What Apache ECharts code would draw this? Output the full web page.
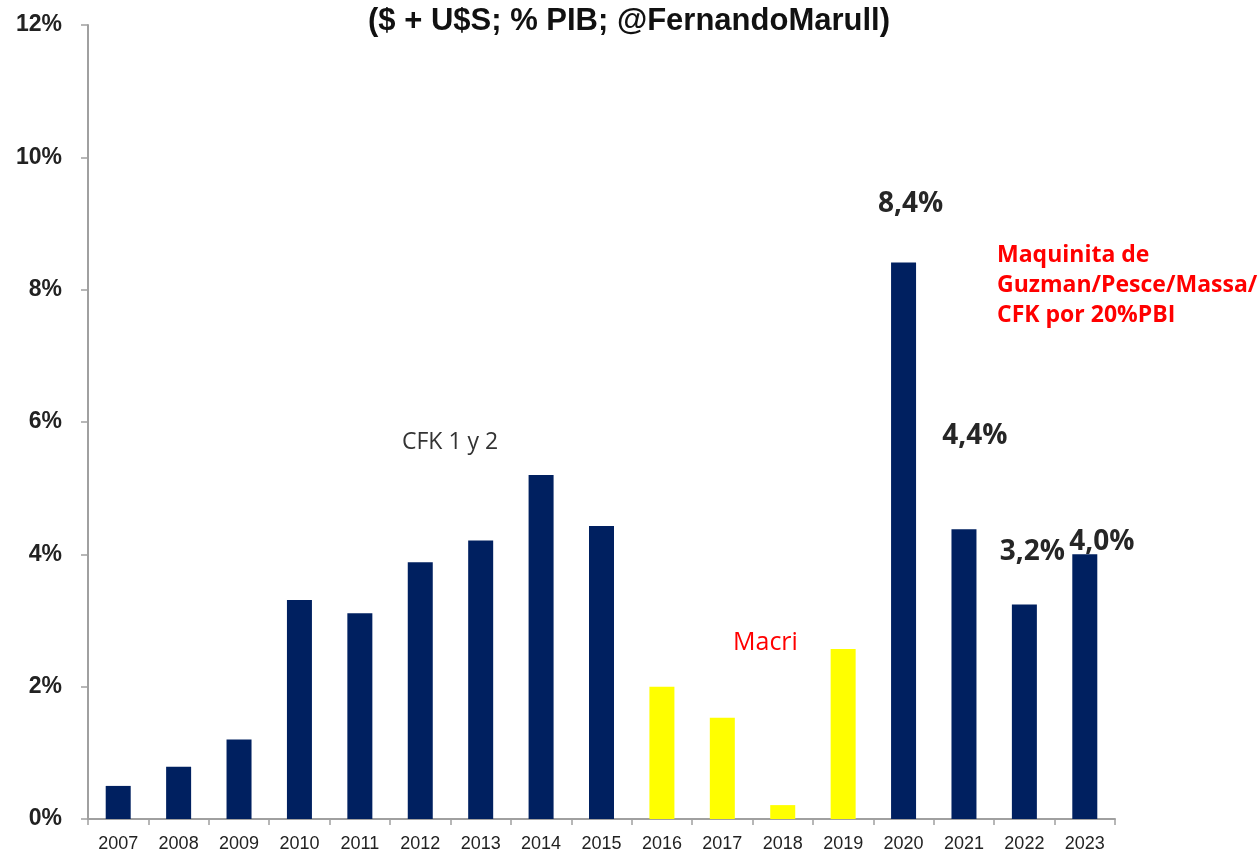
<!DOCTYPE html>
<html>
<head>
<meta charset="utf-8">
<script src="https://cdn.jsdelivr.net/npm/echarts@6/dist/echarts.min.js"></script>
<style>html,body{margin:0;padding:0;background:#fff}#c{width:1260px;height:855px}</style>
</head>
<body>
<div id="c"></div>
<script>
var years = ['2007','2008','2009','2010','2011','2012','2013','2014','2015','2016','2017','2018','2019','2020','2021','2022','2023'];
var values = [0.5, 0.79, 1.2, 3.31, 3.11, 3.88, 4.21, 5.2, 4.43, 2.0, 1.53, 0.21, 2.57, 8.41, 4.38, 3.24, 4.0];
var govs = ['CFK','CFK','CFK','CFK','CFK','CFK','CFK','CFK','CFK','Macri','Macri','Macri','Macri','AF','AF','AF','AF'];
var yTicks = [0, 2, 4, 6, 8, 10, 12];
var labelled = {'2020': [7, -40], '2021': [11, -74], '2022': [8, -34], '2023': [17, 7]};
var titleText = '($ + U$S; % PIB; @FernandoMarull)';

var NAVY = '#002060', YELLOW = '#FFFF00', RED = '#FF0000';
function fmt(v){ return v.toFixed(1).replace('.', ',') + '%'; }

var data = values.map(function(v, i){
  var item = { value: v, itemStyle: { color: govs[i] === 'Macri' ? YELLOW : NAVY } };
  var off = labelled[years[i]];
  if (off) {
    item.label = { show: true, position: 'top', offset: off, formatter: function(p){ return fmt(p.value); },
      fontFamily: 'Open Sans, Liberation Sans, Arial', fontWeight: 'bold', fontSize: 28, color: '#262626' };
  }
  return item;
});

var chart = echarts.init(document.getElementById('c'), null, { renderer: 'canvas' });
chart.setOption({
  animation: false,
  backgroundColor: '#fff',
  title: {
    text: titleText, left: 624, top: 1, textAlign: 'center',
    textStyle: { fontFamily: 'Liberation Sans, Arial', fontWeight: 'bold', fontSize: 31, color: '#111' }
  },
  grid: { left: 88, right: 145, top: 25, bottom: 36, containLabel: false },
  xAxis: {
    type: 'category', data: years,
    axisLine: { lineStyle: { color: '#A0A0A0', width: 2 } },
    axisTick: { show: true, length: 6, lineStyle: { color: '#A0A0A0', width: 1.5 } },
    axisLabel: { color: '#222', fontSize: 18, margin: 16, interval: 0, hideOverlap: false,
      fontFamily: 'Liberation Sans, Arial' }
  },
  yAxis: {
    type: 'value', min: yTicks[0], max: yTicks[yTicks.length - 1], interval: 2,
    splitLine: { show: false },
    axisLine: { show: true, lineStyle: { color: '#A0A0A0', width: 2 } },
    axisTick: { show: true, length: 7, lineStyle: { color: '#A0A0A0', width: 1.5 } },
    axisLabel: { formatter: '{value}%', color: '#222', fontSize: 23, fontWeight: 'bold', margin: 26,
      fontFamily: 'Liberation Sans, Arial' }
  },
  series: [{
    type: 'bar', data: data, barWidth: 25, barCategoryGap: '0%'
  }]
});

chart.setOption({
  graphic: [
    { type: 'text', x: 402, y: 431, style: { text: 'CFK 1 y 2', fill: '#333', font: '23px "Open Sans", "Liberation Sans", Arial' } },
    { type: 'text', x: 733, y: 630, style: { text: 'Macri', fill: RED, font: '25px "Open Sans", "Liberation Sans", Arial' } },
    { type: 'text', x: 997, y: 240, style: { text: 'Maquinita de\nGuzman/Pesce/Massa/\nCFK por 20%PBI', fill: RED,
      font: 'bold 23px "Open Sans", "Liberation Sans", Arial', lineHeight: 30 } }
  ]
});
</script>
</body>
</html>
